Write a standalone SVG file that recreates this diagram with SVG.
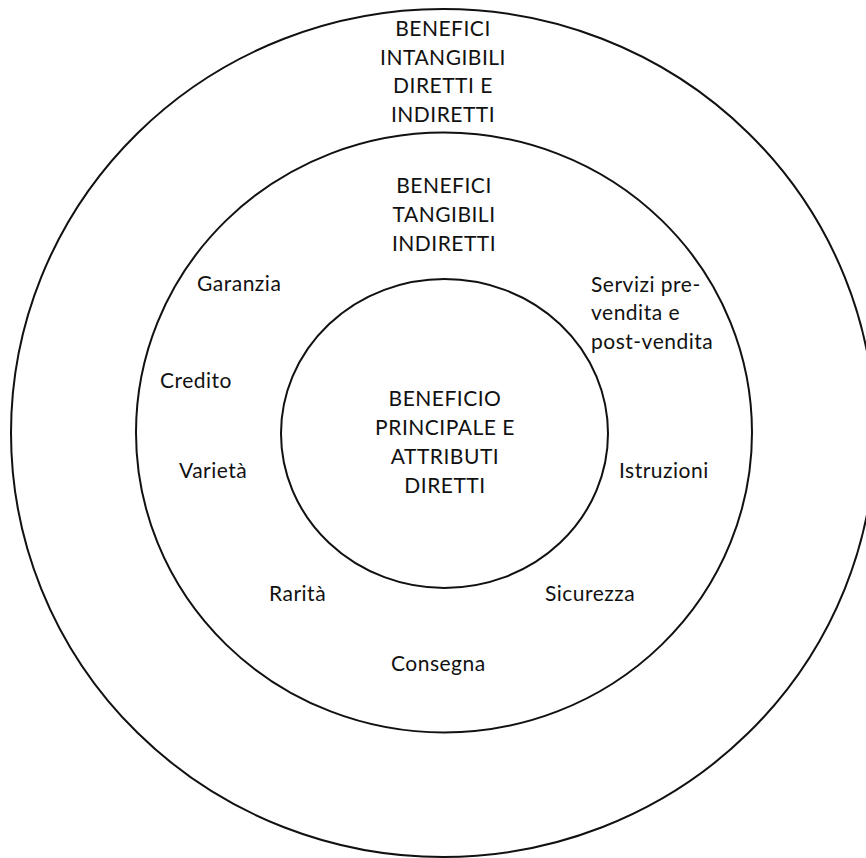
<svg xmlns="http://www.w3.org/2000/svg" width="866" height="858" viewBox="0 0 866 858">
  <style>
    .ring { fill: none; stroke: #111; stroke-width: 2; }
    .lbl { font-family: Lato, "Open Sans", "Liberation Sans", sans-serif; font-size: 21px; letter-spacing: 0.5px; fill: #111; }
    .mid { text-anchor: middle; }
  </style>
  <rect width="866" height="858" fill="#fff"/>

  <!-- outer ring: intangible benefits -->
  <g id="outer">
    <ellipse class="ring" cx="443" cy="433" rx="432" ry="424"/>
    <text class="lbl mid" x="443" y="36">BENEFICI</text>
    <text class="lbl mid" x="443" y="65">INTANGIBILI</text>
    <text class="lbl mid" x="443" y="93">DIRETTI E</text>
    <text class="lbl mid" x="443" y="122">INDIRETTI</text>
  </g>

  <!-- middle ring: indirect tangible benefits -->
  <g id="middle">
    <ellipse class="ring" cx="444" cy="432.5" rx="308" ry="300"/>
    <text class="lbl mid" x="444" y="193">BENEFICI</text>
    <text class="lbl mid" x="444" y="222">TANGIBILI</text>
    <text class="lbl mid" x="444" y="251">INDIRETTI</text>
  </g>

  <!-- items placed in the middle ring -->
  <g id="items">
    <text class="lbl" x="197" y="291">Garanzia</text>
    <text class="lbl" x="591" y="292">Servizi pre-</text>
    <text class="lbl" x="591" y="320">vendita e</text>
    <text class="lbl" x="591" y="349">post-vendita</text>
    <text class="lbl" x="160" y="388">Credito</text>
    <text class="lbl" x="179" y="478">Varietà</text>
    <text class="lbl" x="619" y="478">Istruzioni</text>
    <text class="lbl" x="269" y="601">Rarità</text>
    <text class="lbl" x="545" y="601">Sicurezza</text>
    <text class="lbl" x="391" y="671">Consegna</text>
  </g>

  <!-- inner ring: core benefit -->
  <g id="inner">
    <ellipse class="ring" cx="444.5" cy="433.5" rx="163.5" ry="154.5"/>
    <text class="lbl mid" x="445" y="406">BENEFICIO</text>
    <text class="lbl mid" x="445" y="435">PRINCIPALE E</text>
    <text class="lbl mid" x="445" y="464">ATTRIBUTI</text>
    <text class="lbl mid" x="445" y="493">DIRETTI</text>
  </g>
</svg>
